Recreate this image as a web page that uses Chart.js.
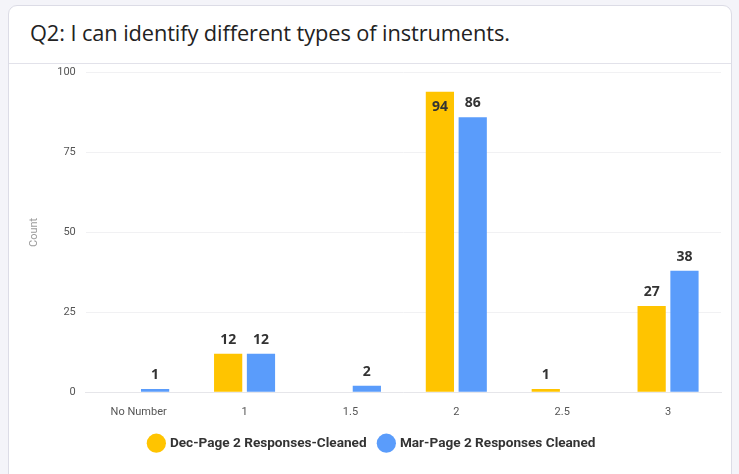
<!DOCTYPE html>
<html>
<head>
<meta charset="utf-8">
<script src="https://cdn.jsdelivr.net/npm/chart.js@4/dist/chart.umd.min.js"></script>
<style>
  html, body { margin: 0; padding: 0; background: #f4f4f9; width: 739px; height: 474px; overflow: hidden; }
  #card {
    position: absolute; left: 8px; top: 5px; width: 724px; height: 480px;
    background: #fff; border: 1px solid #dcdce6; border-radius: 9px; box-sizing: border-box;
  }
  #head {
    position: absolute; left: 0; top: 0; width: 722px; height: 57px;
    border-bottom: 1px solid #e2e2ea;
  }
  #title {
    position: absolute; left: 21px; top: 13px; white-space: nowrap;
    font-family: "Open Sans", "Noto Sans", sans-serif; font-size: 21.8px; font-weight: 400;
    line-height: 28px; color: #222; letter-spacing: -0.1px;
  }
  #wrap { position: absolute; left: 1px; top: 50px; width: 721px; height: 421px; }
</style>
</head>
<body>
<div id="card">
  <div id="head"><span id="title">Q2: I can identify different types of instruments.</span></div>
  <div id="wrap"><canvas id="myChart"></canvas></div>
</div>
<script>
var categories = ['No Number', '1', '1.5', '2', '2.5', '3'];
var dec_counts = [0, 12, 0, 94, 1, 27];
var mar_counts = [1, 12, 2, 86, 0, 38];
var y_ticks = [0, 25, 50, 75, 100];

// value labels over each bar, pushed inside when it would hit the top
var barLabels = {
    id: 'barLabels',
    afterDatasetsDraw: function (chart) {
        var ctx = chart.ctx;
        ctx.save();
        ctx.font = 'bold 14px "Open Sans", sans-serif';
        ctx.fillStyle = '#333';
        ctx.textAlign = 'center';
        ctx.textBaseline = 'bottom';
        chart.data.datasets.forEach(function (ds, i) {
            chart.getDatasetMeta(i).data.forEach(function (bar, j) {
                var v = ds.data[j];
                if (!v) return;
                var y = bar.y - 7;
                if (y - 16 < chart.chartArea.top) y = bar.y + 22;
                ctx.fillText(v, bar.x, y);
            });
        });
        ctx.restore();
    }
};

var chart = new Chart(document.getElementById('myChart'), {
    type: 'bar',
    data: {
        labels: categories,
        datasets: [
            {
                label: 'Dec-Page 2 Responses-Cleaned',
                data: dec_counts,
                backgroundColor: '#ffc400',
                categoryPercentage: 0.62,
                barPercentage: 0.86
            },
            {
                label: 'Mar-Page 2 Responses Cleaned',
                data: mar_counts,
                backgroundColor: '#5a9cfb',
                categoryPercentage: 0.62,
                barPercentage: 0.86
            }
        ]
    },
    options: {
        responsive: true,
        maintainAspectRatio: false,
        animation: false,
        layout: { padding: { top: 0, right: 10, bottom: 17, left: 14 } },
        scales: {
            x: {
                grid: { display: false },
                border: { color: '#e6e6ea' },
                ticks: { color: '#555', font: { size: 11, family: 'Roboto' }, padding: 5 }
            },
            y: {
                min: 0,
                max: 100,
                afterBuildTicks: function (axis) {
                    axis.ticks = y_ticks.map(function (v) { return { value: v }; });
                },
                grid: { color: '#f1f1f3', drawTicks: false },
                border: { display: false },
                ticks: { color: '#555', font: { size: 11, family: 'Roboto' }, padding: 10 },
                title: {
                    display: true,
                    text: 'Count',
                    color: '#9a9a9a',
                    font: { size: 11, family: 'Roboto' },
                    padding: { bottom: 6 }
                }
            }
        },
        plugins: {
            legend: {
                position: 'bottom',
                labels: {
                    usePointStyle: true,
                    pointStyle: 'circle',
                    boxWidth: 14,
                    boxHeight: 14,
                    padding: 13,
                    color: '#333',
                    font: { size: 13.6, weight: 'bold', family: 'Roboto' }
                }
            },
            tooltip: { enabled: false }
        }
    },
    plugins: [barLabels]
});
</script>
</body>
</html>
